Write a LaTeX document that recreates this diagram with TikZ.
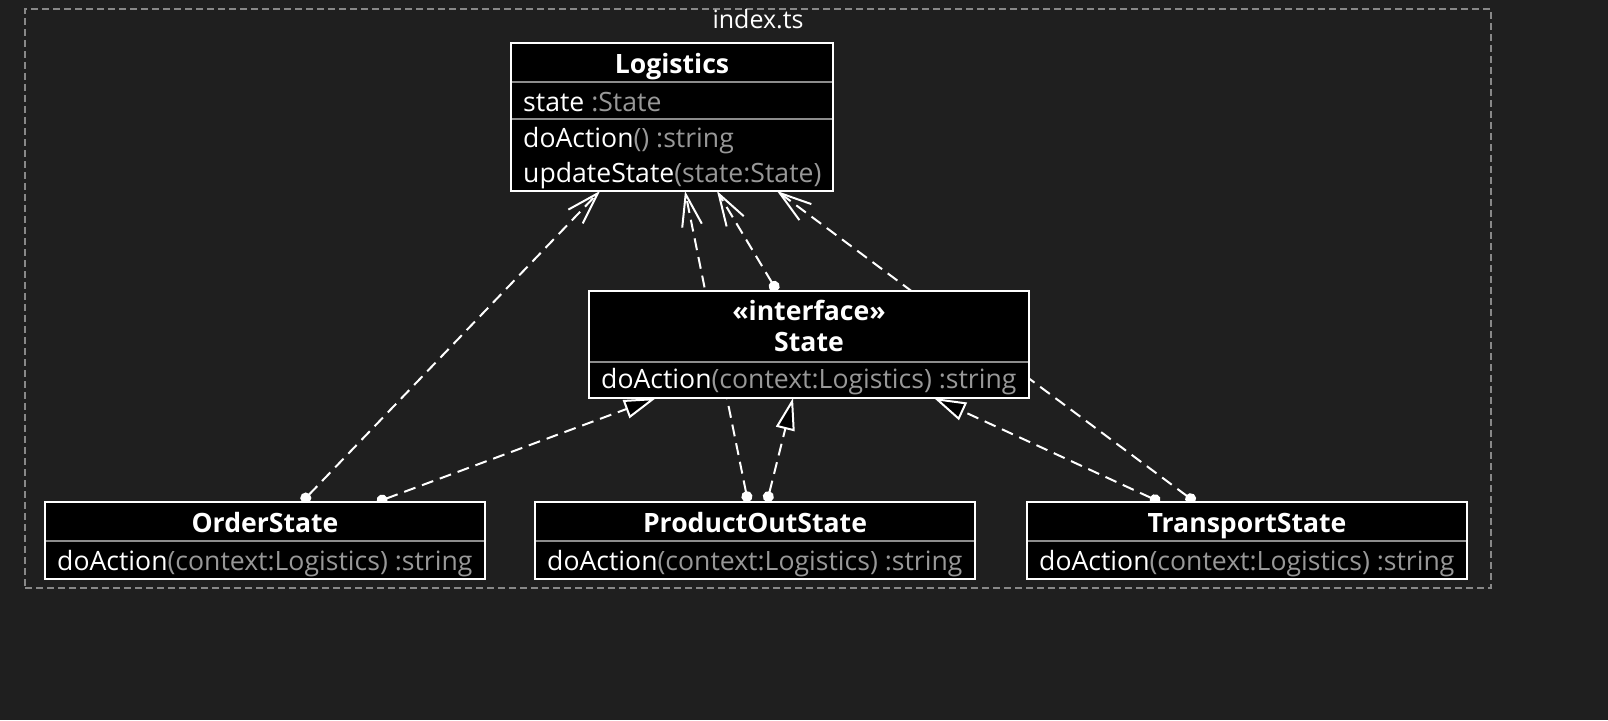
\documentclass[tikz,border=0pt]{standalone}
\usepackage{fontspec}
\setmainfont{Open Sans}
\usetikzlibrary{arrows.meta, positioning}

\definecolor{bgdark}{RGB}{31,31,31}
\definecolor{framegray}{RGB}{136,136,136}
\definecolor{sepgray}{RGB}{140,140,140}
\definecolor{typegray}{RGB}{152,152,152}
\newcommand{\mtype}[1]{\textcolor{typegray}{#1}}

\pgfdeclarelayer{canvaslayer}
\pgfdeclarelayer{wires}
\pgfsetlayers{canvaslayer,wires,main}

\begin{document}
\begin{tikzpicture}[
      x=1pt, y=-1pt,
      font=\fontsize{26.6}{31}\selectfont,
      classbox/.style={rectangle, draw=white, fill=black, line width=2pt, outer sep=0pt, inner sep=0pt},
      clsname/.style={text=white, font=\fontsize{26.6}{31}\selectfont\bfseries, anchor=base, inner sep=0pt},
      member/.style={text=white, anchor=base west, inner sep=0pt},
      sep/.style={draw=sepgray, line width=2pt, shorten <=1pt, shorten >=1pt},
      dep/.style={draw=white, line width=2pt, dash pattern=on 12pt off 7pt, {Circle[length=11pt]}-{Straight Barb[length=32pt, width=20pt]}},
      real/.style={draw=white, line width=2pt, dash pattern=on 12pt off 7pt, {Circle[length=11pt]}-{Triangle[length=32pt, width=19pt, fill=black]}},
      pkgframe/.style={rectangle, draw=framegray, line width=1.6pt, dash pattern=on 7pt off 4pt, outer sep=0pt, inner sep=0pt}
    ]
    \begin{pgfonlayer}{canvaslayer}
      \fill[bgdark] (0,0) rectangle (1608,720);
    \end{pgfonlayer}

    % package frame
    \node[pkgframe, minimum width=1466pt, minimum height=579pt] (pkg) at (758,298.5) {};
    \node[text=white, anchor=base, inner sep=0pt, font=\fontsize{25}{29}\selectfont] (pkg-label) at ([yshift=-19pt]pkg.north) {index.ts};

    % Logistics
    \node[classbox, minimum width=322pt, minimum height=148pt] (logistics) at (672,117) {};
    \node[clsname] (logistics-name) at ([yshift=-30pt]logistics.north) {Logistics};
    \draw[sep] ([yshift=-39pt]logistics.north west) -- ([yshift=-39pt]logistics.north east);
    \node[member] (logistics-attr) at ([xshift=12pt, yshift=-68pt]logistics.north west) {state \mtype{:State}};
    \draw[sep] ([yshift=-76pt]logistics.north west) -- ([yshift=-76pt]logistics.north east);
    \node[member] (logistics-op1) at ([xshift=12pt, yshift=-104pt]logistics.north west) {doAction\mtype{() :string}};
    \node[member] (logistics-op2) at ([xshift=12pt, yshift=-139pt]logistics.north west) {updateState\mtype{(state:State)}};

    % State
    \node[classbox, minimum width=440pt, minimum height=107pt, below=100pt of logistics, xshift=137pt] (state) {};
    \node[clsname] (state-stereo) at ([yshift=-29pt]state.north) {«interface»};
    \node[clsname] (state-name) at ([yshift=-60pt]state.north) {State};
    \draw[sep] ([yshift=-71pt]state.north west) -- ([yshift=-71pt]state.north east);
    \node[member] (state-op) at ([xshift=12pt, yshift=-97pt]state.north west) {doAction\mtype{(context:Logistics) :string}};

    % concrete states
    \node[classbox, minimum width=440pt, minimum height=77pt, below=104pt of state, xshift=-54pt] (productout) {};
    \node[classbox, minimum width=440pt, minimum height=77pt, left=50pt of productout] (order) {};
    \node[classbox, minimum width=440pt, minimum height=77pt, right=52pt of productout] (transport) {};

    \node[clsname] (order-name) at ([yshift=-30pt]order.north) {OrderState};
    \draw[sep] ([yshift=-39pt]order.north west) -- ([yshift=-39pt]order.north east);
    \node[member] (order-op) at ([xshift=12pt, yshift=-68pt]order.north west) {doAction\mtype{(context:Logistics) :string}};

    \node[clsname] (productout-name) at ([yshift=-30pt]productout.north) {ProductOutState};
    \draw[sep] ([yshift=-39pt]productout.north west) -- ([yshift=-39pt]productout.north east);
    \node[member] (productout-op) at ([xshift=12pt, yshift=-68pt]productout.north west) {doAction\mtype{(context:Logistics) :string}};

    \node[clsname] (transport-name) at ([yshift=-30pt]transport.north) {TransportState};
    \draw[sep] ([yshift=-39pt]transport.north west) -- ([yshift=-39pt]transport.north east);
    \node[member] (transport-op) at ([xshift=12pt, yshift=-68pt]transport.north west) {doAction\mtype{(context:Logistics) :string}};

    % relations
    \begin{pgfonlayer}{wires}
      \draw[dep] ([xshift=37pt]order.north) -- ([xshift=-72pt]logistics.south);
      \draw[real] ([xshift=112pt]order.north) -- ([xshift=-153pt]state.south);
      \draw[dep] ([xshift=-7pt]productout.north) -- ([xshift=13pt]logistics.south);
      \draw[real] ([xshift=12pt]productout.north) -- ([xshift=-16pt]state.south);
      \draw[real] ([xshift=-87pt]transport.north) -- ([xshift=125pt]state.south);
      \draw[dep] ([xshift=-52pt]transport.north) -- ([xshift=105pt]logistics.south);
      \draw[dep] ([xshift=-32pt]state.north) -- ([xshift=45pt]logistics.south);
    \end{pgfonlayer}
\end{tikzpicture}
\end{document}
